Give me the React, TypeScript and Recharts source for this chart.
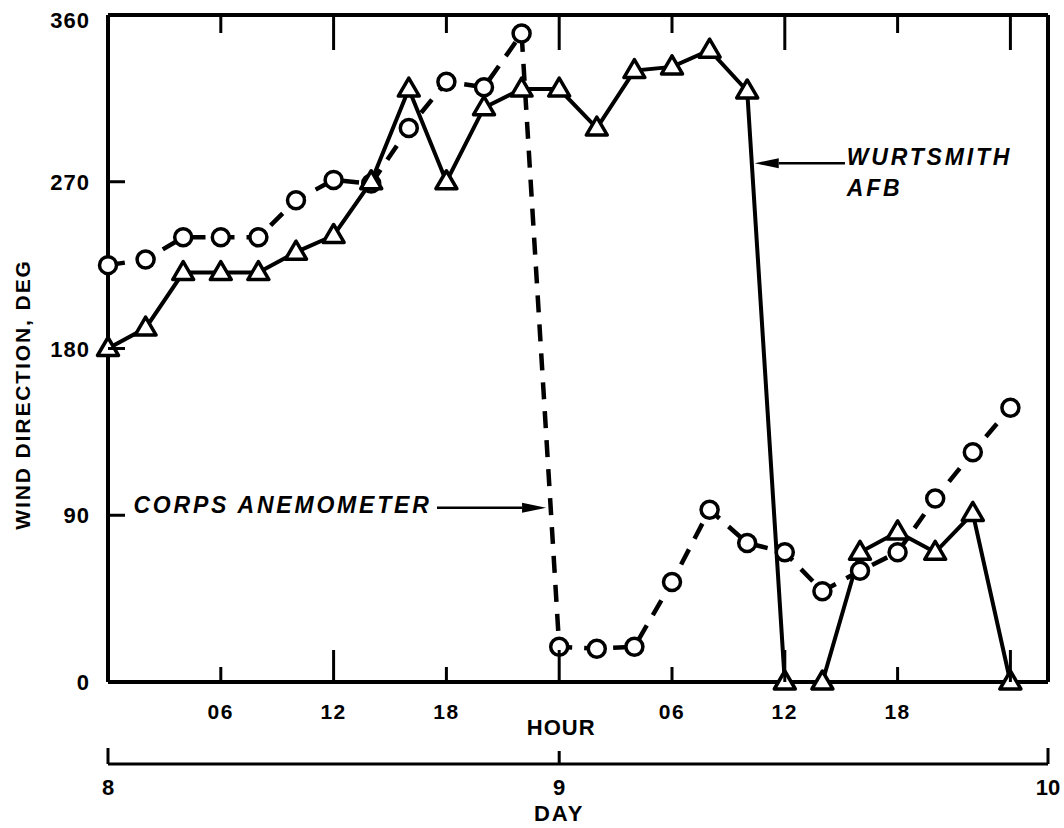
import { LineChart, Line, XAxis, YAxis, ReferenceLine, ReferenceDot, Label } from 'recharts';

// hours after 00 on day 8, one reading every 2 h
const hours = [0, 2, 4, 6, 8, 10, 12, 14, 16, 18, 20, 22, 24, 26, 28, 30, 32, 34, 36, 38, 40, 42, 44, 46, 48];
const corpsAnemometer = [225, 228, 240, 240, 240, 260, 271, 269, 299, 324, 321, 350, 19, 18, 19, 54, 93, 75, 70, 49, 60, 70, 99, 124, 148];
const wurtsmithAfb = [180, 191, 221, 221, 221, 232, 241, 270, 320, 270, 310, 320, 320, 299, 330, 332, 341, 319, 0, 0, 70, 81, 70, 91, 0];

const hourTicks = [6, 12, 18, 24, 30, 36, 42, 48];
const hourTickLabels = ['06', '12', '18', '', '06', '12', '18', ''];
const dayTicks = [0, 24, 50];
const dayTickLabels = ['8', '9', '10'];
const degTicks = [0, 90, 180, 270, 360];

const FONT = '"Liberation Sans", Arial, Helvetica, sans-serif';
const INK = '#000';

const rows = hours.map((h, i) => ({ hour: h, corps: corpsAnemometer[i], afb: wurtsmithAfb[i] }));

const textStyle = { fontFamily: FONT, fontWeight: 700, fill: INK } as const;

// bottom hour ticks point up into the plot
const HourTick = (props: any) => {
  const { x, y, payload } = props;
  const i = hourTicks.indexOf(payload.value);
  const len = payload.value % 12 === 0 ? 32 : 15;
  return (
    <g>
      <line x1={x} y1={y} x2={x} y2={y - len} stroke={INK} strokeWidth={3} />
      {hourTickLabels[i] && (
        <text x={x} y={y + 37} textAnchor="middle" fontSize={21} letterSpacing={1.5} style={textStyle}>
          {hourTickLabels[i]}
        </text>
      )}
    </g>
  );
};

const TopTick = (props: any) => {
  const { x, y, payload } = props;
  const len = payload.value % 12 === 0 ? 35 : 18;
  return <line x1={x} y1={y} x2={x} y2={y + len} stroke={INK} strokeWidth={3} />;
};

const LeftTick = (props: any) => {
  const { x, y, payload } = props;
  const v = payload.value;
  const inner = v !== 0 && v !== 360;
  return (
    <g>
      {inner && <line x1={x} y1={y} x2={x + 17} y2={y} stroke={INK} strokeWidth={3} />}
      <text x={x - 18} y={y + (v === 360 ? 13 : 8)} textAnchor="end" fontSize={22} letterSpacing={1} style={textStyle}>
        {v}
      </text>
    </g>
  );
};

const RightTick = (props: any) => {
  const { x, y, payload } = props;
  const v = payload.value;
  if (v === 0 || v === 360) return <g />;
  return <line x1={x} y1={y} x2={x - 18} y2={y} stroke={INK} strokeWidth={3} />;
};

const DayTick = (props: any) => {
  const { x, y, payload } = props;
  const i = dayTicks.indexOf(payload.value);
  const len = payload.value === 24 ? 13 : 16;
  return (
    <g>
      <line x1={x} y1={y} x2={x} y2={y - len} stroke={INK} strokeWidth={3} />
      <text x={x} y={y + 31} textAnchor="middle" fontSize={22} style={textStyle}>
        {dayTickLabels[i]}
      </text>
    </g>
  );
};

const Arrow = (props: any) => {
  const { x1, y1, x2, y2 } = props;
  const ang = Math.atan2(y2 - y1, x2 - x1);
  const L = 24;
  const W = 5;
  const bx = x2 - L * Math.cos(ang);
  const by = y2 - L * Math.sin(ang);
  const px = -Math.sin(ang) * W;
  const py = Math.cos(ang) * W;
  return (
    <g>
      <line x1={x1} y1={y1} x2={bx} y2={by} stroke={INK} strokeWidth={2.5} />
      <polygon points={`${x2},${y2} ${bx + px},${by + py} ${bx - px},${by - py}`} fill={INK} />
    </g>
  );
};

const noteText = (value: string) => (p: any) => (
  <text x={p.cx} y={p.cy} fontSize={23} letterSpacing={2.8} fontStyle="italic" style={textStyle}>
    {value}
  </text>
);

const CircleDot = (p: any) => (
  <circle key={`c-${p.index}`} cx={p.cx} cy={p.cy} r={8.5} fill="#fff" stroke={INK} strokeWidth={3.5} />
);

const TriangleDot = (p: any) => (
  <polygon
    key={`t-${p.index}`}
    points={`${p.cx},${p.cy - 11} ${p.cx - 10.5},${p.cy + 7} ${p.cx + 10.5},${p.cy + 7}`}
    fill="#fff"
    stroke={INK}
    strokeWidth={3.5}
    strokeLinejoin="round"
  />
);

export default function App() {
  return (
    <div style={{ position: 'absolute', left: 0, top: 0, width: 1064, height: 828, background: '#fff' }}>
      <LineChart width={1064} height={828} data={rows} margin={{ top: 0, right: 15, bottom: 0, left: 48 }}>
        <XAxis
          xAxisId="b-day" dataKey="hour" type="number" domain={[0, 50]} ticks={dayTicks} interval={0}
          height={64} tickSize={0} tickMargin={0} tickLine={false} tick={<DayTick />}
          axisLine={{ stroke: INK, strokeWidth: 3 }}
        >
          <Label
            content={(p: any) => (
              <text x={p.viewBox.x + (p.viewBox.width * 24) / 50} y={p.viewBox.y + 57} textAnchor="middle" fontSize={22} letterSpacing={2} style={textStyle}>
                DAY
              </text>
            )}
          />
        </XAxis>
        <XAxis
          xAxisId="a-hour" dataKey="hour" type="number" domain={[0, 50]} ticks={hourTicks} interval={0}
          height={82} tickSize={0} tickMargin={0} tickLine={false} tick={<HourTick />}
          axisLine={{ stroke: INK, strokeWidth: 4 }}
        >
          <Label
            content={(p: any) => (
              <text x={p.viewBox.x + (p.viewBox.width * 24) / 50 + 2} y={p.viewBox.y + 53} textAnchor="middle" fontSize={22} letterSpacing={1} style={textStyle}>
                HOUR
              </text>
            )}
          />
        </XAxis>
        <XAxis
          xAxisId="top" orientation="top" dataKey="hour" type="number" domain={[0, 50]} ticks={hourTicks} interval={0}
          height={15} tickSize={0} tickMargin={0} tickLine={false} tick={<TopTick />}
          axisLine={{ stroke: INK, strokeWidth: 4 }}
        />
        <YAxis
          yAxisId="left" type="number" domain={[0, 360]} ticks={degTicks} interval={0}
          width={60} tickSize={0} tickMargin={0} tickLine={false} tick={<LeftTick />}
          axisLine={{ stroke: INK, strokeWidth: 4 }}
        >
          <Label
            content={(p: any) => {
              const cx = p.viewBox.x - 26;
              const cy = p.viewBox.y + p.viewBox.height / 2 + 46;
              return (
                <text x={cx} y={cy} transform={`rotate(-90, ${cx}, ${cy})`} textAnchor="middle" dominantBaseline="central" fontSize={21} letterSpacing={1.9} style={textStyle}>
                  WIND DIRECTION, DEG
                </text>
              );
            }}
          />
        </YAxis>
        <YAxis
          yAxisId="right" orientation="right" type="number" domain={[0, 360]} ticks={degTicks} interval={0}
          width={1} tickSize={0} tickMargin={0} tickLine={false} tick={<RightTick />}
          axisLine={{ stroke: INK, strokeWidth: 4 }}
        />

        <Line
          xAxisId="a-hour" yAxisId="left" type="linear" dataKey="corps" name="Corps anemometer"
          stroke={INK} strokeWidth={4.5} strokeDasharray="17 12" dot={CircleDot} activeDot={false}
          isAnimationActive={false}
        />
        <Line
          xAxisId="a-hour" yAxisId="left" type="linear" dataKey="afb" name="Wurtsmith AFB"
          stroke={INK} strokeWidth={4} dot={TriangleDot} activeDot={false}
          isAnimationActive={false}
        />

        <ReferenceLine xAxisId="a-hour" yAxisId="left" segment={[{ x: 17.5, y: 94 }, { x: 23.3, y: 94 }]} shape={Arrow} />
        <ReferenceLine xAxisId="a-hour" yAxisId="left" segment={[{ x: 39.2, y: 280 }, { x: 34.4, y: 280 }]} shape={Arrow} />
        <ReferenceDot xAxisId="a-hour" yAxisId="left" x={1.35} y={91.2} r={0} shape={noteText('CORPS ANEMOMETER')} />
        <ReferenceDot xAxisId="a-hour" yAxisId="left" x={39.3} y={279} r={0} shape={noteText('WURTSMITH')} />
        <ReferenceDot xAxisId="a-hour" yAxisId="left" x={39.3} y={262.3} r={0} shape={noteText('AFB')} />
      </LineChart>
    </div>
  );
}
